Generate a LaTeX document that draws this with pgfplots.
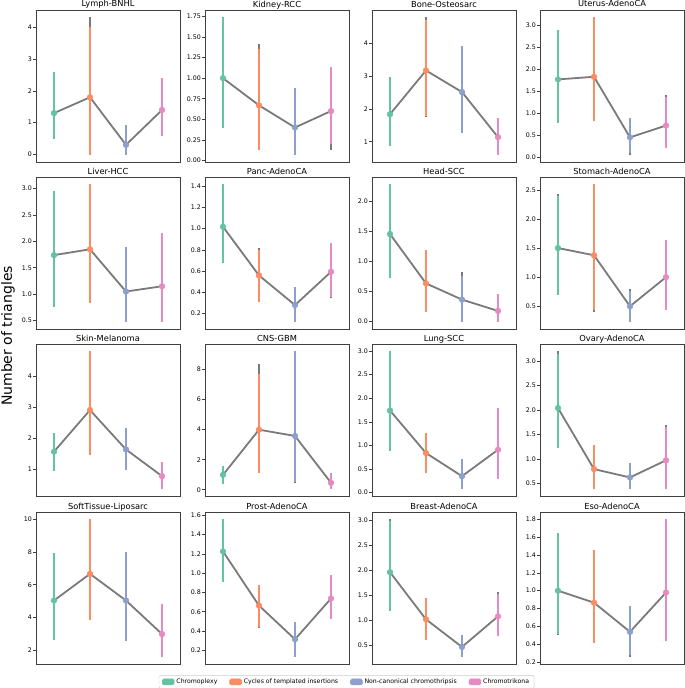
\documentclass[border=0pt]{standalone}
\usepackage{fontspec}
\setmainfont{DejaVu Sans}
\usepackage{pgfplots}
\usepackage{pgfplotstable}
\pgfplotsset{compat=1.18}

\definecolor{c0}{HTML}{66C2A5}
\definecolor{c1}{HTML}{FC8D62}
\definecolor{c2}{HTML}{8DA0CB}
\definecolor{c3}{HTML}{E78AC3}
\definecolor{lg}{HTML}{7A7A7A}

% columns: x mean low high graylow grayhigh
\pgfplotstableread{
x m lo hi glo ghi
0 1.30 0.47 2.61 0.47 2.61
1 1.80 -0.02 4.01 -0.02 4.33
2 0.30 -0.02 0.92 -0.02 0.92
3 1.40 0.58 2.42 0.58 2.42
}\tLymph
\pgfplotstableread{
x m lo hi glo ghi
0 1.00 0.39 1.75 0.39 1.75
1 0.67 0.12 1.35 0.12 1.42
2 0.40 0.06 0.875 0.06 0.875
3 0.60 0.20 1.14 0.125 1.14
}\tKidney
\pgfplotstableread{
x m lo hi glo ghi
0 1.84 0.86 2.97 0.86 2.97
1 3.18 1.80 4.72 1.77 4.82
2 2.52 1.28 3.93 1.28 3.93
3 1.14 0.59 1.72 0.59 1.72
}\tBone
\pgfplotstableread{
x m lo hi glo ghi
0 1.77 0.77 2.90 0.77 2.90
1 1.83 0.82 3.19 0.82 3.19
2 0.45 0.09 0.90 0.045 0.90
3 0.72 0.20 1.36 0.20 1.41
}\tUterus
\pgfplotstableread{
x m lo hi glo ghi
0 1.74 0.75 2.95 0.75 2.95
1 1.85 0.83 3.09 0.83 3.09
2 1.05 0.47 1.89 0.47 1.89
3 1.15 0.47 2.15 0.47 2.15
}\tLiver
\pgfplotstableread{
x m lo hi glo ghi
0 1.017 0.676 1.416 0.676 1.416
1 0.559 0.305 0.80 0.305 0.82
2 0.28 0.12 0.454 0.12 0.454
3 0.593 0.36 0.862 0.345 0.862
}\tPanc
\pgfplotstableread{
x m lo hi glo ghi
0 1.455 0.716 2.29 0.716 2.29
1 0.634 0.165 1.19 0.165 1.19
2 0.364 -0.01 0.75 -0.01 0.826
3 0.176 -0.01 0.463 -0.01 0.463
}\tHead
\pgfplotstableread{
x m lo hi glo ghi
0 1.50 0.69 2.40 0.69 2.42
1 1.376 0.43 2.60 0.40 2.60
2 0.50 0.23 0.77 0.23 0.805
3 1.00 0.44 1.64 0.44 1.64
}\tStomach
\pgfplotstableread{
x m lo hi glo ghi
0 1.57 0.96 2.18 0.96 2.18
1 2.91 1.45 4.82 1.45 4.82
2 1.64 0.98 2.33 0.98 2.33
3 0.78 0.36 1.24 0.36 1.24
}\tSkin
\pgfplotstableread{
x m lo hi glo ghi
0 0.99 0.35 1.60 0.35 1.60
1 4.00 1.14 7.74 1.14 8.35
2 3.58 0.50 9.25 0.42 9.25
3 0.46 0.04 1.10 0.04 1.10
}\tCNS
\pgfplotstableread{
x m lo hi glo ghi
0 1.74 0.89 3.00 0.89 3.00
1 0.84 0.41 1.27 0.41 1.27
2 0.35 0.08 0.71 0.08 0.71
3 0.91 0.29 1.79 0.29 1.79
}\tLung
\pgfplotstableread{
x m lo hi glo ghi
0 2.04 1.23 3.14 1.23 3.21
1 0.79 0.38 1.29 0.38 1.29
2 0.62 0.38 0.92 0.38 0.92
3 0.97 0.38 1.65 0.38 1.70
}\tOvary
\pgfplotstableread{
x m lo hi glo ghi
0 5.04 2.62 7.95 2.62 7.95
1 6.66 3.83 10.0 3.83 10.0
2 5.04 2.60 8.00 2.60 8.00
3 3.00 1.60 4.80 1.60 4.80
}\tSoft
\pgfplotstableread{
x m lo hi glo ghi
0 1.225 0.909 1.562 0.909 1.562
1 0.664 0.44 0.878 0.434 0.878
2 0.314 0.13 0.492 0.13 0.492
3 0.737 0.52 0.977 0.52 0.977
}\tProst
\pgfplotstableread{
x m lo hi glo ghi
0 1.96 1.19 2.98 1.19 3.02
1 1.02 0.60 1.44 0.60 1.44
2 0.47 0.27 0.70 0.27 0.70
3 1.08 0.68 1.52 0.68 1.56
}\tBreast
\pgfplotstableread{
x m lo hi glo ghi
0 1.00 0.52 1.64 0.51 1.64
1 0.866 0.41 1.45 0.41 1.45
2 0.54 0.28 0.83 0.26 0.83
3 0.98 0.44 1.80 0.44 1.80
}\tEso

\pgfplotsset{panel/.style={
  scale only axis, width=144pt, height=152pt, anchor=north west,
  xmin=-0.5, xmax=3.5, xtick=\empty,
  axis line style={draw=black!75, line width=0.8pt},
  tick align=outside, major tick length=3pt, ytick pos=left,
  ytick style={draw=black!75, line width=0.6pt},
  yticklabel style={font=\fontsize{6.3}{7}\selectfont, inner sep=1pt},
  /pgf/number format/assume math mode=true,
  /pgf/number format/fixed, /pgf/number format/fixed zerofill,
  every axis title shift=0pt,
  title style={font=\fontsize{8.3}{10}\selectfont, at={(0.5,1)}, anchor=base, yshift=3pt},
  legend columns=4,
  legend style={at={(0.983,-0.118)}, anchor=center, font=\fontsize{6.2}{7}\selectfont,
    draw=black!20, rounded corners=1.5pt, inner xsep=3pt, inner ysep=1.5pt,
    /tikz/every even column/.append style={column sep=10pt},
    cells={anchor=west}},
  legend image code/.code={\fill[##1] (0pt,-3pt) rectangle (12pt,3pt);},
}}

\newcommand{\panel}[9]{%
\begin{axis}[panel, at={(#1pt,-#2pt)}, title={#3}, ymin=#4, ymax=#5, ytick={#6},
  yticklabel style={/pgf/number format/precision=#7}]
 \addplot[only marks, mark=none, forget plot, error bars/.cd, y dir=both, y explicit, error mark=none,
   error bar style={draw=lg, line width=2.5pt}]
   table[x=x, y=m, y error plus expr=\thisrow{ghi}-\thisrow{m}, y error minus expr=\thisrow{m}-\thisrow{glo}] {#8};
 \pgfplotsinvokeforeach{0,...,3}{%
   \addplot[only marks, mark=none, forget plot, error bars/.cd, y dir=both, y explicit, error mark=none,
     error bar style={draw=c##1, line width=2.5pt}]
     table[x=x, y=m, y error plus expr=\thisrow{hi}-\thisrow{m}, y error minus expr=\thisrow{m}-\thisrow{lo},
       restrict expr to domain={\coordindex}{##1:##1}] {#8};
 }
 \addplot[lg, line width=1.8pt, mark=none, forget plot] table[x=x, y=m] {#8};
 \pgfplotsinvokeforeach{0,...,3}{%
   \addplot[only marks, mark=*, mark size=2.9pt, draw=c##1, fill=c##1, forget plot]
     table[x=x, y=m, restrict expr to domain={\coordindex}{##1:##1}] {#8};
 }
 #9
\end{axis}}

\begin{document}
\begin{tikzpicture}
\useasboundingbox (0pt,0pt) rectangle (685pt,-688pt);
% row 1
\panel{36}{10}{Lymph-BNHL}{-0.24}{4.55}{0,1,2,3,4}{0}{\tLymph}{}
\panel{205}{10}{Kidney-RCC}{-0.02}{1.83}{0,0.25,0.5,0.75,1,1.25,1.5,1.75}{2}{\tKidney}{}
\panel{372}{10}{Bone-Osteosarc}{0.38}{5.03}{1,2,3,4}{0}{\tBone}{}
\panel{540}{10}{Uterus-AdenoCA}{-0.11}{3.35}{0,0.5,1,1.5,2,2.5,3}{1}{\tUterus}{}
% row 2
\panel{36}{177}{Liver-HCC}{0.34}{3.22}{0.5,1,1.5,2,2.5,3}{1}{\tLiver}{}
\panel{205}{177}{Panc-AdenoCA}{0.055}{1.485}{0.2,0.4,0.6,0.8,1,1.2,1.4}{1}{\tPanc}{}
\panel{372}{177}{Head-SCC}{-0.125}{2.405}{0,0.5,1,1.5,2}{1}{\tHead}{}
\panel{540}{177}{Stomach-AdenoCA}{0.11}{2.72}{0.5,1,1.5,2,2.5}{1}{\tStomach}{}
% row 3
\panel{36}{344}{Skin-Melanoma}{0.14}{5.04}{1,2,3,4}{0}{\tSkin}{}
\panel{205}{344}{CNS-GBM}{-0.42}{9.71}{0,2,4,6,8}{0}{\tCNS}{}
\panel{372}{344}{Lung-SCC}{-0.07}{3.15}{0,0.5,1,1.5,2,2.5,3}{1}{\tLung}{}
\panel{540}{344}{Ovary-AdenoCA}{0.24}{3.35}{0.5,1,1.5,2,2.5,3}{1}{\tOvary}{}
% row 4
\panel{36}{512}{SoftTissue-Liposarc}{1.18}{10.42}{2,4,6,8,10}{0}{\tSoft}{}
\panel{205}{512}{Prost-AdenoCA}{0.058}{1.634}{0.2,0.4,0.6,0.8,1,1.2,1.4,1.6}{1}{\tProst}{%
  \addlegendimage{c0}
  \addlegendimage{c1}
  \addlegendimage{c2}
  \addlegendimage{c3}
  \legend{Chromoplexy, Cycles of templated insertions, Non-canonical chromothripsis, Chromotrikona}
}
\panel{372}{512}{Breast-AdenoCA}{0.13}{3.16}{0.5,1,1.5,2,2.5,3}{1}{\tBreast}{}
\panel{540}{512}{Eso-AdenoCA}{0.18}{1.88}{0.2,0.4,0.6,0.8,1,1.2,1.4,1.6,1.8}{1}{\tEso}{}
\node[rotate=90, font=\fontsize{14}{16}\selectfont] at (8pt,-336pt) {Number of triangles};
\end{tikzpicture}
\end{document}
